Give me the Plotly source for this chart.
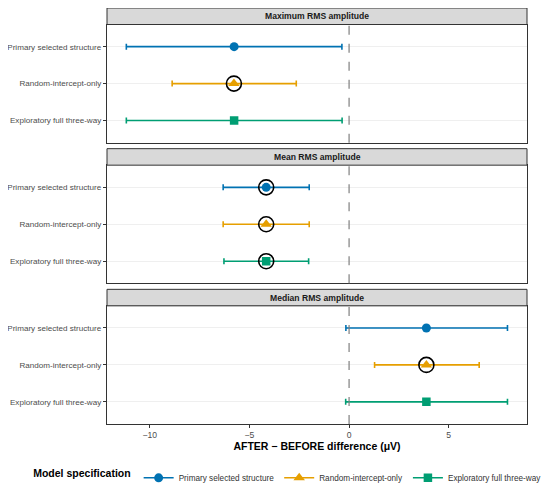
import plotly.graph_objects as go
from plotly.subplots import make_subplots

# data
models = ["Primary selected structure", "Random-intercept-only", "Exploratory full three-way"]
outcomes = ["Maximum RMS amplitude", "Mean RMS amplitude", "Median RMS amplitude"]

est_max = [-5.77, -5.78, -5.77]
lo_max = [-11.18, -8.88, -11.18]
hi_max = [-0.36, -2.65, -0.35]

est_mean = [-4.16, -4.16, -4.16]
lo_mean = [-6.32, -6.32, -6.28]
hi_mean = [-2.00, -2.00, -2.03]

est_median = [3.88, 3.88, 3.88]
lo_median = [-0.16, 1.28, -0.17]
hi_median = [7.95, 6.53, 7.95]

# which estimate is the "selected" one (black ring)
sel_max = [False, True, False]
sel_mean = [True, True, True]
sel_median = [False, True, False]

colors = ["#0072B2", "#E69F00", "#009E73"]
symbols = ["circle", "triangle-up", "square"]
sizes = [9, 10, 8.5]

panels = [
    (est_max, lo_max, hi_max, sel_max),
    (est_mean, lo_mean, hi_mean, sel_mean),
    (est_median, lo_median, hi_median, sel_median),
]

FONT = "Liberation Sans, Arial, sans-serif"

fig = make_subplots(rows=3, cols=1, shared_xaxes=True)

for r, (est, lo, hi, sel) in enumerate(panels, start=1):
    for i, m in enumerate(models):
        fig.add_trace(go.Scatter(
            x=[est[i]], y=[m], mode="markers",
            marker=dict(color=colors[i], symbol=symbols[i], size=sizes[i]),
            error_x=dict(type="data", symmetric=False,
                         array=[hi[i] - est[i]], arrayminus=[est[i] - lo[i]],
                         color=colors[i], thickness=1.6, width=3),
            showlegend=False, hoverinfo="x+y",
        ), row=r, col=1)
    ring_x = [e for e, s in zip(est, sel) if s]
    ring_y = [m for m, s in zip(models, sel) if s]
    fig.add_trace(go.Scatter(
        x=ring_x, y=ring_y, mode="markers",
        marker=dict(symbol="circle-open", size=15, color="black", line=dict(width=1.6)),
        showlegend=False, hoverinfo="skip",
    ), row=r, col=1)

# legend entries (line through marker, like a pointrange key)
for i, m in enumerate(models):
    fig.add_trace(go.Scatter(
        x=[None], y=[None], mode="lines+markers", name=m,
        line=dict(color=colors[i], width=1.6),
        marker=dict(color=colors[i], symbol=symbols[i], size=sizes[i]),
    ), row=3, col=1)

# panel geometry (paper units); page body adds 8px, so the figure is 542x476
W, H = 542, 476
plot_h = H - 60
strip_h = 16.5 / plot_h
gap = 6 / plot_h
panel_h = (1 - 3 * strip_h - 2 * gap) / 3
domains = []
top = 1.0
for r in range(3):
    s_top = top
    s_bot = s_top - strip_h
    p_bot = s_bot - panel_h
    domains.append((p_bot, s_bot, s_top))
    top = p_bot - gap

axis_font = dict(family=FONT, size=8.1, color="#4D4D4D")

for r, (p_bot, s_bot, s_top) in enumerate(domains, start=1):
    yname = "yaxis" if r == 1 else f"yaxis{r}"
    fig.layout[yname].update(
        domain=[max(p_bot, 0), s_bot],
        type="category", categoryarray=models, range=[2.6, -0.6],
        showgrid=True, gridcolor="#EFEFEF", gridwidth=1,
        showline=True, mirror=True, linecolor="#333333", linewidth=1.2,
        ticks="outside", ticklen=3, tickcolor="#333333", tickfont=axis_font,
        zeroline=False, automargin=False,
    )
    fig.add_shape(type="rect", xref="paper", yref="paper",
                  x0=0, x1=1, y0=s_bot, y1=s_top,
                  fillcolor="#D9D9D9", line=dict(color="#333333", width=1))
    fig.add_annotation(text="<b>" + outcomes[r - 1] + "</b>", xref="paper", yref="paper",
                       x=0.5, y=(s_bot + s_top) / 2, yanchor="middle", showarrow=False,
                       font=dict(family=FONT, size=8.6, color="#1A1A1A"))
    yref = "y domain" if r == 1 else f"y{r} domain"
    xref = "x" if r == 1 else f"x{r}"
    fig.add_shape(type="line", xref=xref, yref=yref, x0=0, x1=0, y0=0, y1=1,
                  line=dict(color="#808080", width=1.2, dash="dash"))

for r in range(1, 4):
    xname = "xaxis" if r == 1 else f"xaxis{r}"
    fig.layout[xname].update(
        range=[-12.15, 8.93], showgrid=False, zeroline=False,
        showline=True, mirror=True, linecolor="#333333", linewidth=1.2,
        tickvals=[-10, -5, 0, 5], automargin=False,
    )
    if r < 3:
        fig.layout[xname].update(showticklabels=False, ticks="")
    else:
        fig.layout[xname].update(
            ticks="outside", ticklen=3, tickcolor="#333333",
            tickfont=dict(family=FONT, size=8.6, color="#4D4D4D"),
            title=dict(text="<b>AFTER − BEFORE difference (μV)</b>", standoff=3,
                       font=dict(family=FONT, size=10.5, color="black")),
        )

fig.update_layout(
    width=W, height=H,
    margin=dict(l=99, r=23, t=0, b=60),
    plot_bgcolor="white", paper_bgcolor="white",
    font=dict(family=FONT),
    legend=dict(
        orientation="h", xref="container", yref="container",
        x=0.993, xanchor="right", y=0.013, yanchor="middle",
        title=dict(text="<b>Model specification</b>", side="left",
                   font=dict(family=FONT, size=10.5, color="black")),
        font=dict(family=FONT, size=8.2, color="#333333"),
        itemwidth=30, tracegroupgap=0,
    ),
)

fig.write_html("out.html")
